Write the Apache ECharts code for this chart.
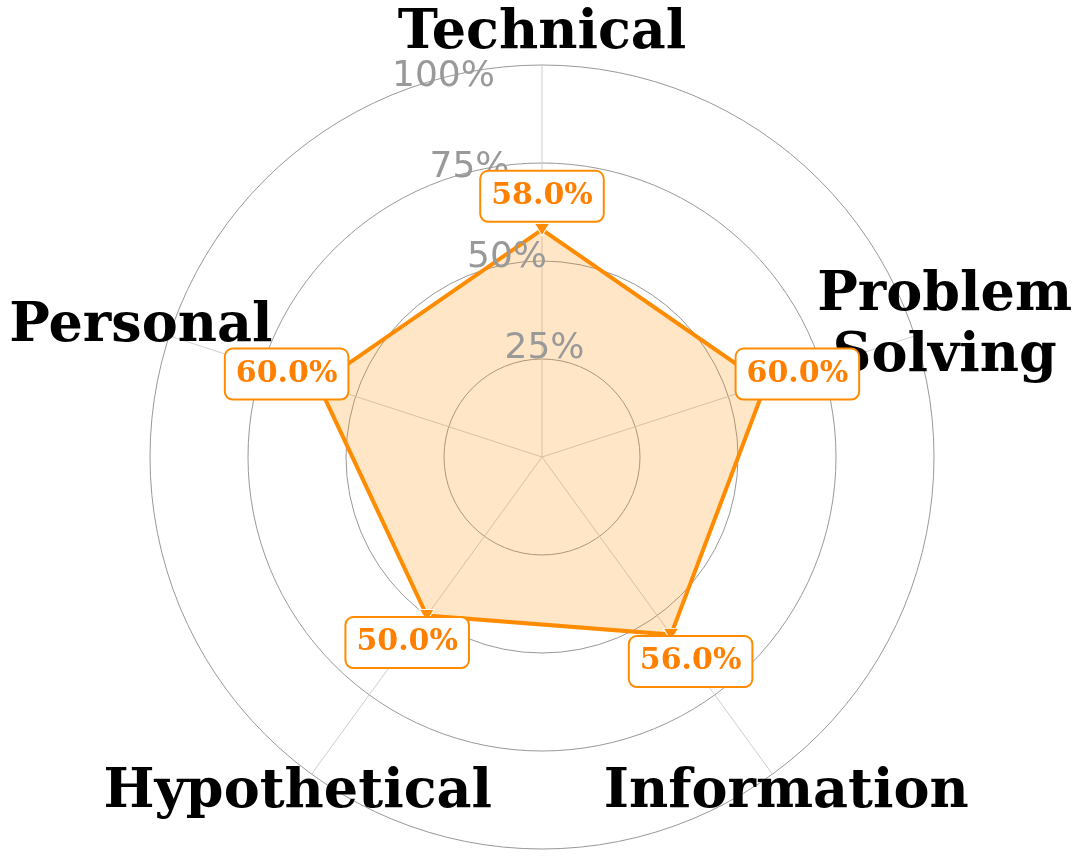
<!DOCTYPE html>
<html><head><meta charset="utf-8">
<script src="https://cdn.jsdelivr.net/npm/echarts@6/dist/echarts.min.js"></script>
<style>html,body{margin:0;background:#fff}#c{width:1080px;height:860px}</style>
</head><body><div id="c"></div>
<script>
// ---- data ----
const categories = ['Technical', 'Problem\nSolving', 'Information', 'Hypothetical', 'Personal'];
const values = [58, 60, 56, 50, 60];
const radialTicks = [25, 50, 75, 100];
const radialTickLabels = ['25%', '50%', '75%', '100%'];

// ---- layout / style ----
const n = categories.length;
const angleOf = i => i * 360 / n;
const ORANGE = '#ff8c00';
const TEXT_ORANGE = '#ff8000';
const valueLabelOffset = 8.5;
const nameRadius = [108, 108, 106, 106, 107.6];
const tickAngle = 360 - 22.5;
const hidden = { color: 'rgba(0,0,0,0)', opacity: 1 };

const chart = echarts.init(document.getElementById('c'), null, { renderer: 'canvas' });
chart.setOption({
  animation: false,
  backgroundColor: '#fff',
  polar: { center: [542, 457], radius: 392 },
  angleAxis: {
    type: 'value', min: 0, max: 360, interval: 72, startAngle: 90, clockwise: true,
    axisLine: { show: false }, axisTick: { show: false }, axisLabel: { show: false },
    splitLine: { show: true, lineStyle: { color: '#cfcfcf', width: 1 } }
  },
  radiusAxis: {
    type: 'value', min: 0, max: 100, interval: 25,
    axisLine: { show: false }, axisTick: { show: false }, axisLabel: { show: false },
    splitLine: { show: true, lineStyle: { color: '#999999', width: 1 } }
  },
  series: [
    {
      type: 'custom', coordinateSystem: 'polar', silent: true, z: 2,
      data: values.map((v, i) => [v, angleOf(i)]),
      renderItem: (params, api) => {
        if (params.dataIndex !== 0) return null;
        const pts = values.map((v, i) => api.coord([v, angleOf(i)]));
        return {
          type: 'polygon', shape: { points: pts },
          style: { fill: 'rgba(255,140,0,0.22)', stroke: ORANGE, lineWidth: 4, lineJoin: 'miter' }
        };
      }
    },
    {
      type: 'scatter', coordinateSystem: 'polar', clip: false, silent: true, z: 3,
      data: values.map((v, i) => [v, angleOf(i)]),
      symbol: 'triangle', symbolRotate: 180, symbolSize: [15, 12],
      itemStyle: { color: ORANGE, borderColor: '#fff', borderWidth: 1, opacity: 1 }
    },
    {
      type: 'scatter', coordinateSystem: 'polar', clip: false, silent: true, z: 5,
      data: values.map((v, i) => [v + valueLabelOffset, angleOf(i)]),
      symbol: 'circle', symbolSize: 1, itemStyle: hidden,
      label: {
        show: true, position: 'inside',
        formatter: p => values[p.dataIndex].toFixed(1) + '%',
        fontFamily: 'DejaVu Serif', fontWeight: 'bold', fontSize: 30, color: TEXT_ORANGE,
        backgroundColor: '#fff', borderColor: ORANGE, borderWidth: 2, borderRadius: 7,
        padding: [10, 10, 9, 10]
      }
    },
    {
      type: 'scatter', coordinateSystem: 'polar', clip: false, silent: true, z: 4,
      data: categories.map((c, i) => [nameRadius[i], angleOf(i)]),
      symbol: 'circle', symbolSize: 1, itemStyle: hidden,
      label: {
        show: true, position: 'inside', align: 'center', verticalAlign: 'middle',
        formatter: p => categories[p.dataIndex],
        fontFamily: 'DejaVu Serif', fontWeight: 'bold', fontSize: 54, lineHeight: 61, color: '#000'
      }
    },
    {
      type: 'scatter', coordinateSystem: 'polar', clip: false, silent: true, z: 4,
      data: radialTicks.map(t => [t, tickAngle]),
      symbol: 'circle', symbolSize: 1, itemStyle: hidden,
      label: {
        show: true, position: 'inside', align: 'left', verticalAlign: 'bottom',
        formatter: p => radialTickLabels[p.dataIndex],
        fontFamily: 'DejaVu Sans', fontSize: 36, color: '#999999'
      }
    }
  ]
});
</script></body></html>
